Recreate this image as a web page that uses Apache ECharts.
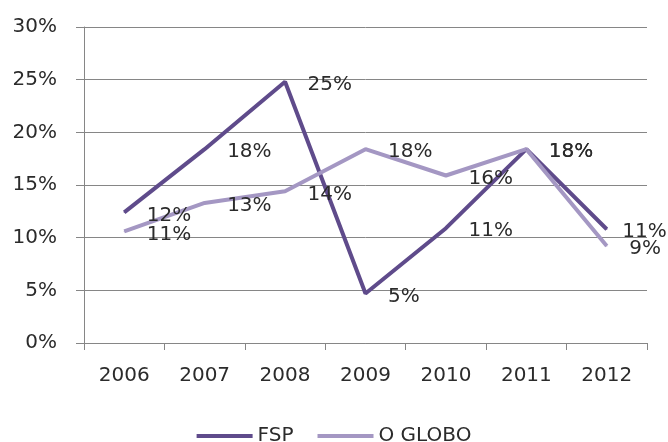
<!DOCTYPE html>
<html>
<head>
<meta charset="utf-8">
<script src="https://cdn.jsdelivr.net/npm/echarts@6/dist/echarts.min.js"></script>
<style>html,body{margin:0;padding:0;background:#fff}#c{width:668px;height:442px}</style>
</head>
<body>
<div id="c"></div>
<script>
const categories = ['2006','2007','2008','2009','2010','2011','2012'];
const fsp = [12.4, 18.4, 24.8, 4.7, 10.9, 18.4, 10.8];
const oGlobo = [10.6, 13.3, 14.4, 18.4, 15.9, 18.4, 9.2];
const yTicks = [0, 5, 10, 15, 20, 25, 30];

const FONT = 'DejaVu Sans';
const chart = echarts.init(document.getElementById('c'), null, {renderer: 'canvas'});

function mkSeries(name, values, color) {
  return {
    name: name,
    type: 'line',
    data: values,
    symbol: 'circle',
    symbolSize: 1,
    showSymbol: true,
    itemStyle: {color: color, borderWidth: 0},
    lineStyle: {color: color, width: 4},
    label: {
      show: true,
      position: 'right',
      distance: 22,
      fontFamily: FONT,
      fontSize: 20,
      color: '#2b2b2b',
      formatter: p => Math.round(p.value) + '%'
    },
    labelLayout: function (p) {
      // keep the right-most wide label inside the chart, like the original
      const last = p.dataIndex === values.length - 1 && Math.round(values[p.dataIndex]) >= 10;
      return {dx: last ? -7 : 0, dy: 3, hideOverlap: false};
    },
    emphasis: {disabled: true},
    animation: false
  };
}

chart.setOption({
  backgroundColor: '#ffffff',
  animation: false,
  grid: {left: 84, right: 21, top: 27, bottom: 99, containLabel: false},
  legend: {
    data: ['FSP', 'O GLOBO'],
    left: 'center',
    top: 421,
    itemWidth: 56,
    itemHeight: 4,
    itemGap: 24,
    icon: 'rect',
    textStyle: {fontFamily: FONT, fontSize: 20, color: '#2b2b2b'}
  },
  xAxis: {
    type: 'category',
    data: categories,
    boundaryGap: true,
    axisLine: {show: true, lineStyle: {color: '#868686', width: 1}},
    axisTick: {show: true, length: 7, alignWithLabel: false, lineStyle: {color: '#868686'}},
    axisLabel: {fontFamily: FONT, fontSize: 20, color: '#2b2b2b', margin: 23},
    splitLine: {show: false}
  },
  yAxis: {
    type: 'value',
    min: yTicks[0],
    max: yTicks[yTicks.length - 1],
    interval: 5,
    axisLine: {show: true, lineStyle: {color: '#868686', width: 1}},
    axisTick: {show: true, length: 8, lineStyle: {color: '#868686'}},
    axisLabel: {fontFamily: FONT, fontSize: 20, color: '#2b2b2b', margin: 27, formatter: v => v + '%'},
    splitLine: {show: true, lineStyle: {color: '#868686', width: 1}}
  },
  series: [
    mkSeries('FSP', fsp, '#5f4b8b'),
    mkSeries('O GLOBO', oGlobo, '#a497c3')
  ]
});
</script>
</body>
</html>
